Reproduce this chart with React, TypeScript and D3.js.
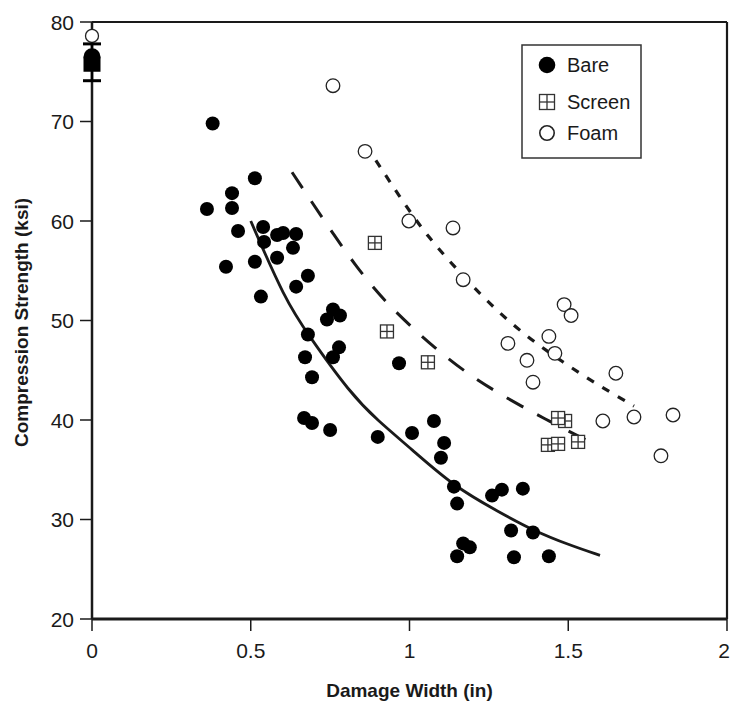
import React from "react";
import * as d3 from "d3";

// ---- data ----
const bareX = [0.38, 0.362, 0.441, 0.441, 0.422, 0.46, 0.513, 0.513, 0.532, 0.539, 0.542, 0.583, 0.602, 0.643, 0.633, 0.583,
  0.68, 0.643, 0.759, 0.781, 0.74, 0.68, 0.778, 0.759, 0.671, 0.693, 0.967, 0.668, 0.693, 0.75, 0.9, 1.008, 1.077, 1.109,
  1.099, 1.14, 1.15, 1.26, 1.291, 1.357, 1.32, 1.389, 1.169, 1.19, 1.15, 1.329, 1.439];
const bareY = [69.8, 61.2, 62.8, 61.3, 55.4, 59.0, 64.3, 55.9, 52.4, 59.4, 57.9, 58.6, 58.8, 58.7, 57.3, 56.3,
  54.5, 53.4, 51.1, 50.5, 50.1, 48.6, 47.3, 46.3, 46.3, 44.3, 45.7, 40.2, 39.7, 39.0, 38.3, 38.7, 39.9, 37.7,
  36.2, 33.3, 31.6, 32.4, 33.0, 33.1, 28.9, 28.7, 27.6, 27.2, 26.3, 26.2, 26.3];

const screenX = [0.891, 0.929, 1.058, 1.49, 1.468, 1.436, 1.468, 1.531];
const screenY = [57.8, 48.9, 45.8, 39.9, 40.2, 37.5, 37.6, 37.8];

const foamX = [0.759, 0.86, 0.998, 1.137, 1.169, 1.487, 1.509, 1.439, 1.31, 1.458, 1.37, 1.389, 1.65, 1.609, 1.707, 1.83, 1.792];
const foamY = [73.6, 67.0, 60.0, 59.3, 54.1, 51.6, 50.5, 48.4, 47.7, 46.7, 46.0, 43.8, 44.7, 39.9, 40.3, 40.5, 36.4];

// baseline (undamaged) values at zero width
const baselineBare = 76.5;
const baselineBareLow = 75.0;
const baselineErrLow = 74.1;
const baselineErrHigh = 77.8;
const baselineFoam = 78.6;

// trend curves
const bareFitX = [0.5, 0.608, 0.68, 0.813, 0.901, 1.002, 1.14, 1.285, 1.389, 1.506, 1.6];
const bareFitY = [60.0, 52.1, 48.6, 42.7, 39.9, 37.2, 33.3, 30.7, 28.9, 27.4, 26.4];
const screenFitX = [0.63, 0.844, 0.97, 1.08, 1.197, 1.307, 1.42, 1.562];
const screenFitY = [64.9, 54.6, 50.4, 47.2, 44.3, 42.2, 40.2, 37.9];
const foamFitX = [0.894, 0.98, 1.058, 1.15, 1.254, 1.364, 1.483, 1.6, 1.707];
const foamFitY = [66.1, 61.9, 58.4, 55.1, 51.6, 48.5, 45.8, 43.4, 41.4];

const xTicks = [0, 0.5, 1, 1.5, 2];
const xTickLabels = ["0", "0.5", "1", "1.5", "2"];
const yTicks = [20, 30, 40, 50, 60, 70, 80];
const yTickLabels = ["20", "30", "40", "50", "60", "70", "80"];
const legendLabels = ["Bare", "Screen", "Foam"];

const FONT = "'Liberation Sans', Arial, Helvetica, sans-serif";
const INK = "#1a1a1a";

function ScreenMark({ cx, cy, s }: { cx: number; cy: number; s: number }) {
  const h = s / 2;
  return (
    <g>
      <rect x={cx - h} y={cy - h} width={s} height={s} fill="#fff" stroke="#333" strokeWidth={1.3} />
      <line x1={cx} x2={cx} y1={cy - h} y2={cy + h} stroke="#333" strokeWidth={1.3} />
      <line x1={cx - h} x2={cx + h} y1={cy} y2={cy} stroke="#333" strokeWidth={1.3} />
    </g>
  );
}

export default function App() {
  const x = d3.scaleLinear().domain([0, 2]).range([92, 727]);
  const y = d3.scaleLinear().domain([20, 80]).range([619, 22]);

  const line = d3
    .line<[number, number]>()
    .x((d) => x(d[0]))
    .y((d) => y(d[1]))
    .curve(d3.curveBasis);

  const barePath = line(bareFitX.map((v, i) => [v, bareFitY[i]]) as [number, number][]) || "";
  const screenPath = line(screenFitX.map((v, i) => [v, screenFitY[i]]) as [number, number][]) || "";
  const foamPath = line(foamFitX.map((v, i) => [v, foamFitY[i]]) as [number, number][]) || "";

  const x0 = x(0);
  const [xl, xr] = x.range();
  const [yb, yt] = y.range();

  return (
    <svg width={731} height={705} style={{ position: "absolute", left: 0, top: 0, background: "#fff" }} fontFamily={FONT}>
      <rect x={0} y={0} width={731} height={705} fill="#fff" />

      {/* trend curves */}
      <path d={barePath} fill="none" stroke={INK} strokeWidth={2.8} />
      <path d={screenPath} fill="none" stroke={INK} strokeWidth={3} strokeDasharray="19,16" />
      <path d={foamPath} fill="none" stroke={INK} strokeWidth={3.2} strokeDasharray="8,10" />

      {/* points */}
      {bareX.map((v, i) => (
        <circle key={"b" + i} cx={x(v)} cy={y(bareY[i])} r={7} fill="#000" />
      ))}
      {screenX.map((v, i) => (
        <ScreenMark key={"s" + i} cx={x(v)} cy={y(screenY[i])} s={13} />
      ))}
      {foamX.map((v, i) => (
        <circle key={"f" + i} cx={x(v)} cy={y(foamY[i])} r={6.8} fill="#fff" stroke="#222" strokeWidth={1.3} />
      ))}

      {/* frame */}
      <line x1={xl} x2={xr} y1={yt} y2={yt} stroke={INK} strokeWidth={2.2} />
      <line x1={xr} x2={xr} y1={yt} y2={yb} stroke={INK} strokeWidth={2.2} />
      <line x1={xl} x2={xl} y1={yt} y2={yb} stroke={INK} strokeWidth={2.5} />
      <line x1={xl} x2={xr} y1={yb} y2={yb} stroke={INK} strokeWidth={2.8} />

      {/* baseline at zero width */}
      <circle cx={x0} cy={y(baselineFoam)} r={6.5} fill="#fff" stroke="#222" strokeWidth={1.3} />
      <line x1={x0} x2={x0} y1={y(baselineErrLow)} y2={y(baselineErrHigh)} stroke="#000" strokeWidth={2.5} />
      <line x1={x0 - 9} x2={x0 + 9} y1={y(baselineErrHigh)} y2={y(baselineErrHigh)} stroke="#000" strokeWidth={3} />
      <line x1={x0 - 9} x2={x0 + 9} y1={y(baselineErrLow)} y2={y(baselineErrLow)} stroke="#000" strokeWidth={3} />
      <circle cx={x0} cy={y(baselineBare)} r={8.5} fill="#000" />
      <rect x={x0 - 8.5} y={y(baselineBare)} width={17} height={y(baselineBareLow) - y(baselineBare)} fill="#000" />

      {/* y axis ticks */}
      {yTicks.map((t, i) => (
        <g key={"yt" + i}>
          <line x1={xl - 12} x2={xl} y1={y(t)} y2={y(t)} stroke={INK} strokeWidth={1.5} />
          <text x={xl - 18} y={y(t) + 7.5} textAnchor="end" fontSize={21} fill={INK}>
            {yTickLabels[i]}
          </text>
        </g>
      ))}
      {/* x axis ticks */}
      {xTicks.map((t, i) => (
        <g key={"xt" + i}>
          <line x1={x(t)} x2={x(t)} y1={yb} y2={yb + 12} stroke={INK} strokeWidth={1.5} />
          <text x={Math.min(x(t), 724)} y={yb + 39} textAnchor="middle" fontSize={21} fill={INK}>
            {xTickLabels[i]}
          </text>
        </g>
      ))}

      {/* axis titles */}
      <text x={(xl + xr) / 2} y={697} textAnchor="middle" fontSize={19} fontWeight="bold" fill={INK}>
        Damage Width (in)
      </text>
      <text
        transform={`translate(28, ${(yt + yb) / 2 + 2}) rotate(-90)`}
        textAnchor="middle"
        fontSize={19}
        fontWeight="bold"
        fill={INK}
      >
        Compression Strength (ksi)
      </text>

      {/* legend */}
      <g>
        <rect x={522} y={45} width={119} height={113} fill="#fff" stroke="#333" strokeWidth={1.5} />
        <circle cx={547} cy={65} r={8.3} fill="#000" />
        <ScreenMark cx={547} cy={102} s={15} />
        <circle cx={547} cy={133} r={7.2} fill="#fff" stroke="#222" strokeWidth={1.6} />
        {legendLabels.map((l, i) => (
          <text key={l} x={567} y={[65, 102, 133][i] + 7} fontSize={20} fill={INK}>
            {l}
          </text>
        ))}
      </g>
    </svg>
  );
}
